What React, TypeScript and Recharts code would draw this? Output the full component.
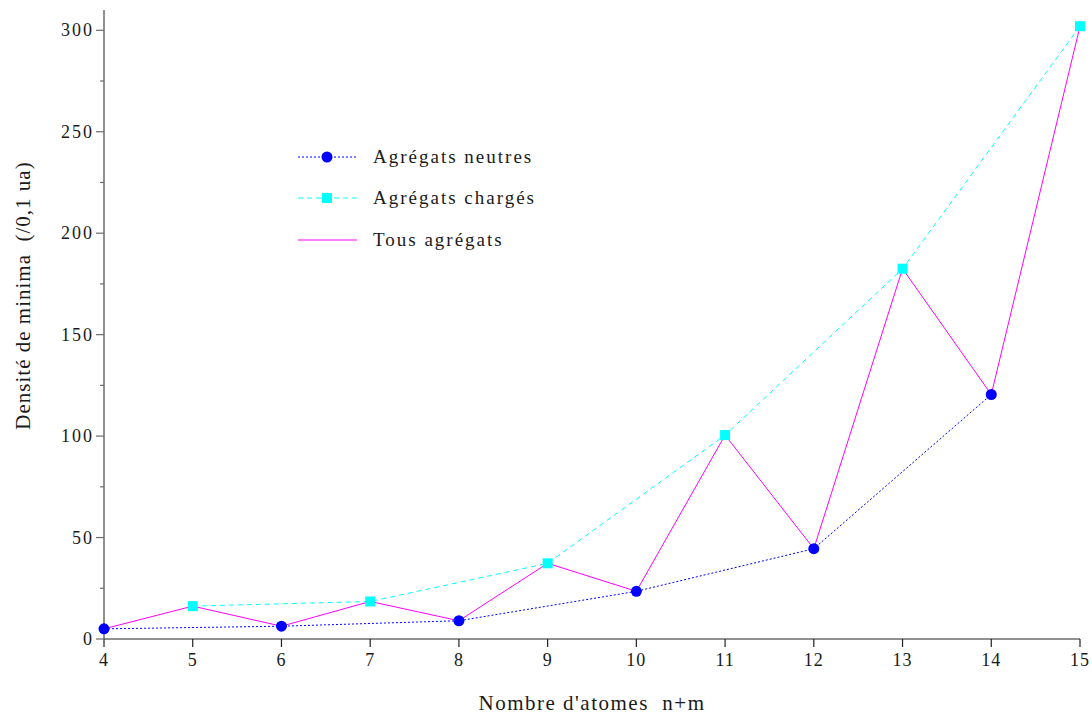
import React from 'react';
import { LineChart, Line, XAxis, YAxis } from 'recharts';

// valeurs
const xNeutres = [4, 6, 8, 10, 12, 14];
const yNeutres = [5, 6.3, 9, 23.5, 44.5, 120.5];
const xCharges = [5, 7, 9, 11, 13, 15];
const yCharges = [16.2, 18.5, 37.3, 100.5, 182.5, 302];
const xTicks = [4, 5, 6, 7, 8, 9, 10, 11, 12, 13, 14, 15];
const yTicks = [0, 25, 50, 75, 100, 125, 150, 175, 200, 225, 250, 275, 300];

const neutres = xNeutres.map((n, i) => ({ n, v: yNeutres[i] }));
const charges = xCharges.map((n, i) => ({ n, v: yCharges[i] }));
const tous = [...neutres, ...charges].sort((a, b) => a.n - b.n);

const FONT = '"Liberation Serif", "Times New Roman", serif';
const AXIS = '#6b6b6b';
const TXT = '#1a1a1a';

const YTick = (props: any) => {
  const { x, y, payload } = props;
  const ax = x + 12;
  const major = payload.value % 50 === 0;
  return (
    <g>
      <line x1={ax - (major ? 8 : 4)} y1={y} x2={ax} y2={y} stroke={AXIS} strokeWidth={1.2} />
      {major && (
        <text x={x + 2} y={y} dy={6} textAnchor="end" fill={TXT} style={{ fontFamily: FONT, fontSize: 18, letterSpacing: 2 }}>
          {payload.value}
        </text>
      )}
    </g>
  );
};

const XTick = (props: any) => {
  const { x, y, payload } = props;
  return (
    <text x={x} y={y} dy={17} textAnchor="middle" fill={TXT} style={{ fontFamily: FONT, fontSize: 18, letterSpacing: 1 }}>
      {payload.value}
    </text>
  );
};

const YLabel = (props: any) => {
  const { viewBox } = props;
  const cx = 23;
  const cy = viewBox.y + viewBox.height / 2 - 29;
  return (
    <text
      x={cx}
      y={cy}
      transform={`rotate(-90 ${cx} ${cy})`}
      textAnchor="middle"
      dominantBaseline="central"
      fill={TXT}
      style={{ fontFamily: FONT, fontSize: 21, letterSpacing: 1 }}
    >
      {'Densité de minima\u00a0\u00a0(/0,1 ua)'}
    </text>
  );
};

const XLabel = (props: any) => {
  const { viewBox } = props;
  return (
    <text
      x={viewBox.x + viewBox.width / 2}
      y={703}
      textAnchor="middle"
      dominantBaseline="central"
      fill={TXT}
      style={{ fontFamily: FONT, fontSize: 21, letterSpacing: 1.5 }}
    >
      {"Nombre d'atomes\u00a0\u00a0n+m"}
    </text>
  );
};

const SquareDot = (props: any) => {
  const { cx, cy, key } = props;
  return <rect key={key} x={cx - 5} y={cy - 5} width={10} height={10} fill="#00ffff" />;
};

const legendItems = [
  { label: 'Agrégats neutres', color: '#0000ff', dash: '2 2', marker: 'circle' },
  { label: 'Agrégats chargés', color: '#00ffff', dash: '5 4', marker: 'square' },
  { label: 'Tous agrégats', color: '#ff00ff', dash: undefined, marker: 'none' },
];

export default function App() {
  return (
    <div style={{ position: 'absolute', left: 0, top: 0, width: 1092, height: 715, background: '#fff', fontFamily: FONT }}>
      <LineChart width={1092} height={715} margin={{ top: 10, right: 12, bottom: 26, left: 44 }}>
        <XAxis
          type="number"
          dataKey="n"
          domain={[4, 15]}
          ticks={xTicks}
          allowDuplicatedCategory={false}
          height={50}
          axisLine={{ stroke: AXIS, strokeWidth: 1.5 }}
          tickLine={{ stroke: '#222', strokeWidth: 1.2 }}
          tickSize={8}
          tickMargin={2}
          tick={XTick}
          label={<XLabel />}
        />
        <YAxis
          type="number"
          domain={[0, 310]}
          ticks={yTicks}
          width={60}
          axisLine={{ stroke: AXIS, strokeWidth: 1.5 }}
          tickLine={false}
          tickSize={0}
          tickMargin={12}
          tick={YTick}
          label={<YLabel />}
        />
        <Line
          data={tous}
          dataKey="v"
          type="linear"
          stroke="#ff00ff"
          strokeWidth={1}
          dot={false}
          isAnimationActive={false}
        />
        <Line
          data={charges}
          dataKey="v"
          type="linear"
          stroke="#00ffff"
          strokeWidth={1}
          strokeDasharray="5 4"
          dot={SquareDot}
          isAnimationActive={false}
        />
        <Line
          data={neutres}
          dataKey="v"
          type="linear"
          stroke="#0000ff"
          strokeWidth={1}
          strokeDasharray="2 2"
          dot={{ r: 5.5, fill: '#0000ff', stroke: '#0000ff', strokeWidth: 0 }}
          isAnimationActive={false}
        />
      </LineChart>
      <div style={{ position: 'absolute', left: 297, top: 136, fontSize: 19, color: TXT, letterSpacing: 2 }}>
        {legendItems.map((it) => (
          <div key={it.label} style={{ display: 'flex', alignItems: 'center', height: 41.5 }}>
            <svg width={62} height={14} style={{ marginRight: 14 }}>
              <line x1={1} y1={7} x2={60} y2={7} stroke={it.color} strokeWidth={1} strokeDasharray={it.dash} />
              {it.marker === 'circle' && <circle cx={30} cy={7} r={5.5} fill={it.color} />}
              {it.marker === 'square' && <rect x={25} y={2} width={10} height={10} fill={it.color} />}
            </svg>
            <span>{it.label}</span>
          </div>
        ))}
      </div>
    </div>
  );
}
